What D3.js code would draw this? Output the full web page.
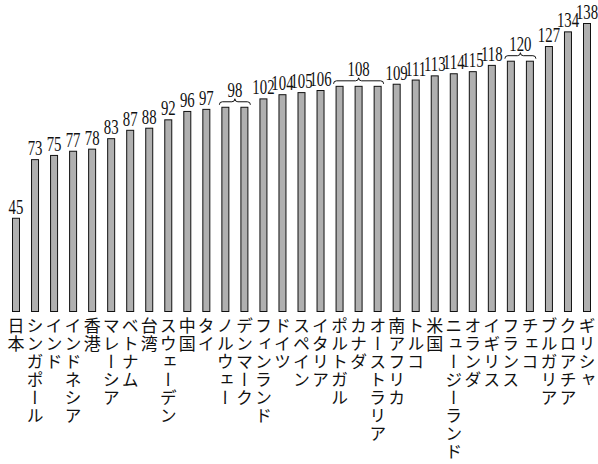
<!DOCTYPE html>
<html>
<head>
<meta charset="utf-8">
<script src="https://cdn.jsdelivr.net/npm/d3@7"></script>
<style>
  body { margin: 0; background: #fff; }
  svg { display: block; }
</style>
</head>
<body>
<svg></svg>
<script>
// The data
const countries = ["日本", "シンガポール", "インド", "インドネシア", "香港", "マレーシア", "ベトナム", "台湾",
  "スウェーデン", "中国", "タイ", "ノルウェー", "デンマーク", "フィンランド", "ドイツ", "スペイン", "イタリア",
  "ポルトガル", "カナダ", "オーストラリア", "南アフリカ", "トルコ", "米国", "ニュージーランド", "オランダ",
  "イギリス", "フランス", "チェコ", "ブルガリア", "クロアチア", "ギリシャ"];
const values = [45, 73, 75, 77, 78, 83, 87, 88, 92, 96, 97, 98, 98, 102, 104, 105, 106,
  108, 108, 108, 109, 111, 113, 114, 115, 118, 120, 120, 127, 134, 138];

let width = 598;
let height = 464;
const svg = d3.select("svg").attr("width", width).attr("height", height);

let x = d3.scaleBand()
    .domain(countries)
    .range([12, 591])
    .paddingInner(0.58)
    .paddingOuter(0);

let y = d3.scaleLinear()
    .domain([0, 138])
    .range([312, 23]);

let rows = countries.map((c, i) => ({ name: c, value: values[i], i: i }));

// bars
svg.selectAll("rect.bar")
    .data(rows)
    .enter()
    .append("rect")
    .attr("class", "bar")
    .attr("x", d => x(d.name) + 0.5)
    .attr("y", d => y(d.value) + 0.5)
    .attr("width", x.bandwidth() - 1)
    .attr("height", d => y(0) - y(d.value) - 1)
    .style("fill", "#b0b0b0")
    .style("stroke", "#111")
    .style("stroke-width", 1);

// runs of equal values get one label and a brace
let groups = [];
rows.forEach(d => {
    let last = groups[groups.length - 1];
    if (last && last.value == d.value) last.items.push(d);
    else groups.push({ value: d.value, items: [d] });
});

let labelFont = "'Liberation Serif', 'DejaVu Serif', serif";

groups.forEach(g => {
    let first = g.items[0], lastItem = g.items[g.items.length - 1];
    let top = y(g.value);
    let cx, by;
    if (g.items.length == 1) {
        cx = x(first.name) + x.bandwidth() / 2;
        by = top - 4;
    } else {
        let x0 = x(first.name) - 2;
        let x1 = x(lastItem.name) + x.bandwidth() + 2;
        cx = (x0 + x1) / 2;
        let ye = top - 2, yl = top - 5, yp = top - 8;
        let r = 3;
        let p = d3.path();
        p.moveTo(x0, ye);
        p.quadraticCurveTo(x0, yl, x0 + r, yl);
        p.lineTo(cx - r, yl);
        p.quadraticCurveTo(cx, yl, cx, yp);
        p.quadraticCurveTo(cx, yl, cx + r, yl);
        p.lineTo(x1 - r, yl);
        p.quadraticCurveTo(x1, yl, x1, ye);
        svg.append("path")
            .attr("d", p.toString())
            .style("fill", "none")
            .style("stroke", "#111")
            .style("stroke-width", 1);
        by = yp - 2;
    }
    svg.append("text")
        .attr("transform", "translate(" + cx + "," + by + ") scale(0.74,1)")
        .attr("text-anchor", "middle")
        .style("font-family", labelFont)
        .style("font-size", "20px")
        .style("fill", "#111")
        .text(g.value);
});

// vertical country names
svg.selectAll("text.name")
    .data(rows)
    .enter()
    .append("text")
    .attr("class", "name")
    .attr("x", d => x(d.name) + x.bandwidth() / 2)
    .attr("y", 317)
    .style("writing-mode", "vertical-rl")
    .style("font-family", "'Noto Sans CJK JP', sans-serif")
    .style("font-size", "17px")
    .style("letter-spacing", "1px")
    .style("fill", "#111")
    .text(d => d.name);
</script>
</body>
</html>
